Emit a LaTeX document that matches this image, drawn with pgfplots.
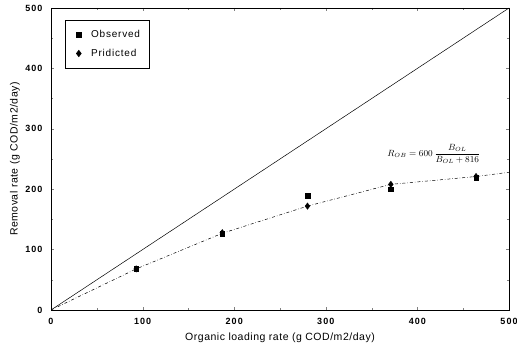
\documentclass[border=0pt]{standalone}
\usepackage{pgfplots}
\pgfplotsset{compat=1.18}
\usepackage{fontspec}
\setmainfont{Liberation Sans}
\newfontfamily\tickfont[LetterSpace=12]{Liberation Sans}
\newfontfamily\labfont[LetterSpace=5]{Liberation Sans}
\newfontfamily\legfont[LetterSpace=8]{Liberation Sans}
\begin{document}
\begin{tikzpicture}
\begin{axis}[
  scale only axis, width=458pt, height=302pt,
  xmin=0, xmax=500, ymin=0, ymax=500,
  xtick={0,100,...,500}, ytick={0,100,...,500},
  minor tick num=1,
  tick align=inside,
  major tick length=3pt, minor tick length=2pt,
  axis line style={line width=0.6pt},
  /pgf/number format/assume math mode=true,
  tick label style={font=\fontsize{9}{10}\selectfont\tickfont\bfseries},
  xticklabel style={anchor=north, yshift=-5pt},
  yticklabel style={anchor=east, xshift=-5pt},
  xlabel={Organic loading rate (g COD/m2/day)},
  ylabel={Removal rate (g COD/m2/day)},
  label style={font=\fontsize{10.5}{12}\selectfont\labfont},
  xlabel style={at={(axis description cs:0.5,-0.093)}, anchor=center},
  ylabel style={at={(axis description cs:-0.079,0.5)}, anchor=center},
  legend style={at={(axis description cs:0.031,0.960)}, anchor=north west, draw=black, line width=0.6pt,
    font=\fontsize{10}{11}\selectfont\legfont, row sep=6pt, inner xsep=7pt, inner ysep=8pt},
  legend cell align=left,
  legend image code/.code={\path (0pt,0pt) (16pt,0pt); \draw[#1] plot coordinates {(6pt,0pt)};},
]
\addplot[black, line width=0.5pt, forget plot] coordinates {(0,0) (500,500)};
\addplot[black, line width=0.5pt, dash dot, forget plot] coordinates {
  (0,0) (93,68) (187,127) (280,172) (371,208) (464,221) (500,228)};
\addplot[only marks, mark=square*, mark size=2.3pt, black] coordinates {
  (93,68) (187,126) (280,189) (371,200) (464,219)};
\addlegendentry{Observed}
\addplot[only marks, mark=diamond*, mark size=3.2pt, black] coordinates {
  (93,68) (187,128) (280,172) (371,208) (464,221)};
\addlegendentry{Pridicted}
\node[font=\fontsize{9}{10}\selectfont] at (axis cs:418,258)
  {$R_{OB}=600\,{\displaystyle\frac{B_{OL}}{B_{OL}+816}}$};
\end{axis}
\pgfresetboundingbox
\path (current axis.south west) ++(-51pt,-41pt) coordinate (bbsw);
\path (current axis.north east) ++(8pt,8pt) coordinate (bbne);
\path (bbsw) rectangle (bbne);
\end{tikzpicture}
\end{document}
